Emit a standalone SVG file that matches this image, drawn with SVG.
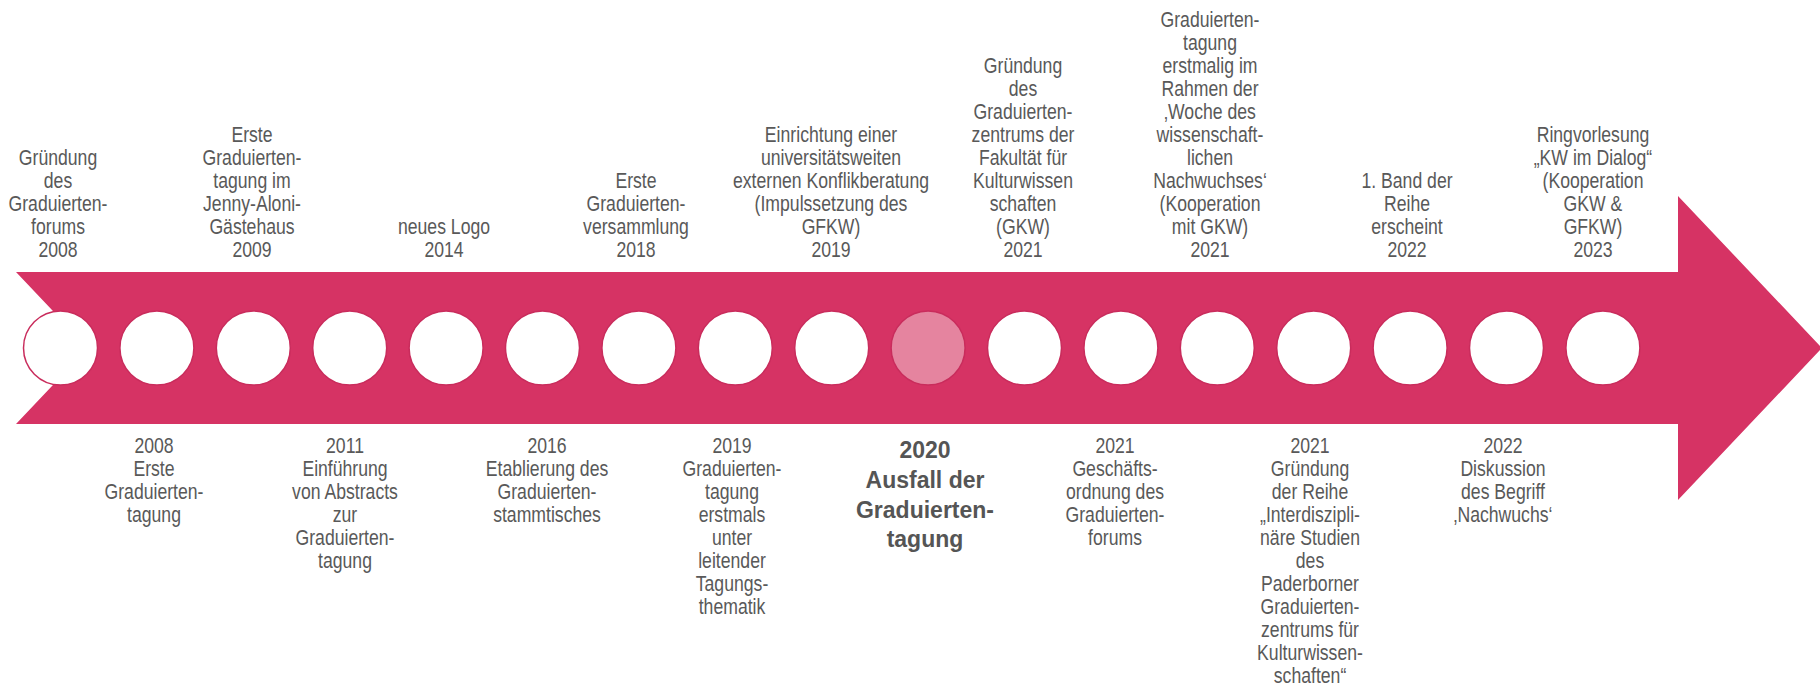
<svg xmlns="http://www.w3.org/2000/svg" width="1820" height="686" viewBox="0 0 1820 686">
<style>
.lbl{font-family:"Liberation Sans",Arial,sans-serif;font-size:21.5px;fill:#595959;text-anchor:middle}
.bold{font-family:"Liberation Sans",Arial,sans-serif;font-weight:bold;font-size:23px;fill:#555555;text-anchor:middle}
.dot{fill:#ffffff;stroke:#C92C5C;stroke-width:1.5}
.off{fill:#E5849F}
</style>
<rect width="1820" height="686" fill="#ffffff"/>
<g id="connectors">
<polygon id="timeline-arrow" points="16,272 1678,272 1678,196 1822,348 1678,500 1678,424 16,424 88,348" fill="#D63364"/>
</g>
<g id="e2008-forum"><circle class="dot" cx="60.5" cy="348" r="37"/>
<text class="lbl" transform="translate(58 0) scale(0.82 1)"><tspan x="0" y="165">Gründung</tspan><tspan x="0" dy="23">des</tspan><tspan x="0" dy="23">Graduierten-</tspan><tspan x="0" dy="23">forums</tspan><tspan x="0" dy="23">2008</tspan></text></g>
<g id="e2008-tagung"><circle class="dot" cx="156.9" cy="348" r="37"/>
<text class="lbl" transform="translate(154 0) scale(0.82 1)"><tspan x="0" y="453">2008</tspan><tspan x="0" dy="23">Erste</tspan><tspan x="0" dy="23">Graduierten-</tspan><tspan x="0" dy="23">tagung</tspan></text></g>
<g id="e2009"><circle class="dot" cx="253.3" cy="348" r="37"/>
<text class="lbl" transform="translate(252 0) scale(0.82 1)"><tspan x="0" y="142">Erste</tspan><tspan x="0" dy="23">Graduierten-</tspan><tspan x="0" dy="23">tagung im</tspan><tspan x="0" dy="23">Jenny-Aloni-</tspan><tspan x="0" dy="23">Gästehaus</tspan><tspan x="0" dy="23">2009</tspan></text></g>
<g id="e2011"><circle class="dot" cx="349.7" cy="348" r="37"/>
<text class="lbl" transform="translate(345 0) scale(0.82 1)"><tspan x="0" y="453">2011</tspan><tspan x="0" dy="23">Einführung</tspan><tspan x="0" dy="23">von Abstracts</tspan><tspan x="0" dy="23">zur</tspan><tspan x="0" dy="23">Graduierten-</tspan><tspan x="0" dy="23">tagung</tspan></text></g>
<g id="e2014"><circle class="dot" cx="446.1" cy="348" r="37"/>
<text class="lbl" transform="translate(444 0) scale(0.82 1)"><tspan x="0" y="234">neues Logo</tspan><tspan x="0" dy="23">2014</tspan></text></g>
<g id="e2016"><circle class="dot" cx="542.5" cy="348" r="37"/>
<text class="lbl" transform="translate(547 0) scale(0.82 1)"><tspan x="0" y="453">2016</tspan><tspan x="0" dy="23">Etablierung des</tspan><tspan x="0" dy="23">Graduierten-</tspan><tspan x="0" dy="23">stammtisches</tspan></text></g>
<g id="e2018"><circle class="dot" cx="638.9" cy="348" r="37"/>
<text class="lbl" transform="translate(636 0) scale(0.82 1)"><tspan x="0" y="188">Erste</tspan><tspan x="0" dy="23">Graduierten-</tspan><tspan x="0" dy="23">versammlung</tspan><tspan x="0" dy="23">2018</tspan></text></g>
<g id="e2019-tagung"><circle class="dot" cx="735.3" cy="348" r="37"/>
<text class="lbl" transform="translate(732 0) scale(0.82 1)"><tspan x="0" y="453">2019</tspan><tspan x="0" dy="23">Graduierten-</tspan><tspan x="0" dy="23">tagung</tspan><tspan x="0" dy="23">erstmals</tspan><tspan x="0" dy="23">unter</tspan><tspan x="0" dy="23">leitender</tspan><tspan x="0" dy="23">Tagungs-</tspan><tspan x="0" dy="23">thematik</tspan></text></g>
<g id="e2019-beratung"><circle class="dot" cx="831.7" cy="348" r="37"/>
<text class="lbl" transform="translate(831 0) scale(0.82 1)"><tspan x="0" y="142">Einrichtung einer</tspan><tspan x="0" dy="23">universitätsweiten</tspan><tspan x="0" dy="23">externen Konflikberatung</tspan><tspan x="0" dy="23">(Impulssetzung des</tspan><tspan x="0" dy="23">GFKW)</tspan><tspan x="0" dy="23">2019</tspan></text></g>
<g id="e2020"><circle class="dot off" cx="928.1" cy="348" r="37"/>
<text class="bold"><tspan x="925" y="458">2020</tspan><tspan x="925" dy="30">Ausfall der</tspan><tspan x="925" dy="30">Graduierten-</tspan><tspan x="925" dy="29">tagung</tspan></text></g>
<g id="e2021-zentrum"><circle class="dot" cx="1024.5" cy="348" r="37"/>
<text class="lbl" transform="translate(1023 0) scale(0.82 1)"><tspan x="0" y="73">Gründung</tspan><tspan x="0" dy="23">des</tspan><tspan x="0" dy="23">Graduierten-</tspan><tspan x="0" dy="23">zentrums der</tspan><tspan x="0" dy="23">Fakultät für</tspan><tspan x="0" dy="23">Kulturwissen</tspan><tspan x="0" dy="23">schaften</tspan><tspan x="0" dy="23">(GKW)</tspan><tspan x="0" dy="23">2021</tspan></text></g>
<g id="e2021-ordnung"><circle class="dot" cx="1120.9" cy="348" r="37"/>
<text class="lbl" transform="translate(1115 0) scale(0.82 1)"><tspan x="0" y="453">2021</tspan><tspan x="0" dy="23">Geschäfts-</tspan><tspan x="0" dy="23">ordnung des</tspan><tspan x="0" dy="23">Graduierten-</tspan><tspan x="0" dy="23">forums</tspan></text></g>
<g id="e2021-woche"><circle class="dot" cx="1217.3" cy="348" r="37"/>
<text class="lbl" transform="translate(1210 0) scale(0.82 1)"><tspan x="0" y="27">Graduierten-</tspan><tspan x="0" dy="23">tagung</tspan><tspan x="0" dy="23">erstmalig im</tspan><tspan x="0" dy="23">Rahmen der</tspan><tspan x="0" dy="23">‚Woche des</tspan><tspan x="0" dy="23">wissenschaft-</tspan><tspan x="0" dy="23">lichen</tspan><tspan x="0" dy="23">Nachwuchses‘</tspan><tspan x="0" dy="23">(Kooperation</tspan><tspan x="0" dy="23">mit GKW)</tspan><tspan x="0" dy="23">2021</tspan></text></g>
<g id="e2021-reihe"><circle class="dot" cx="1313.7" cy="348" r="37"/>
<text class="lbl" transform="translate(1310 0) scale(0.82 1)"><tspan x="0" y="453">2021</tspan><tspan x="0" dy="23">Gründung</tspan><tspan x="0" dy="23">der Reihe</tspan><tspan x="0" dy="23">„Interdiszipli-</tspan><tspan x="0" dy="23">näre Studien</tspan><tspan x="0" dy="23">des</tspan><tspan x="0" dy="23">Paderborner</tspan><tspan x="0" dy="23">Graduierten-</tspan><tspan x="0" dy="23">zentrums für</tspan><tspan x="0" dy="23">Kulturwissen-</tspan><tspan x="0" dy="23">schaften“</tspan></text></g>
<g id="e2022-band"><circle class="dot" cx="1410.1" cy="348" r="37"/>
<text class="lbl" transform="translate(1407 0) scale(0.82 1)"><tspan x="0" y="188">1. Band der</tspan><tspan x="0" dy="23">Reihe</tspan><tspan x="0" dy="23">erscheint</tspan><tspan x="0" dy="23">2022</tspan></text></g>
<g id="e2022-diskussion"><circle class="dot" cx="1506.5" cy="348" r="37"/>
<text class="lbl" transform="translate(1503 0) scale(0.82 1)"><tspan x="0" y="453">2022</tspan><tspan x="0" dy="23">Diskussion</tspan><tspan x="0" dy="23">des Begriff</tspan><tspan x="0" dy="23">‚Nachwuchs‘</tspan></text></g>
<g id="e2023"><circle class="dot" cx="1602.9" cy="348" r="37"/>
<text class="lbl" transform="translate(1593 0) scale(0.82 1)"><tspan x="0" y="142">Ringvorlesung</tspan><tspan x="0" dy="23">„KW im Dialog“</tspan><tspan x="0" dy="23">(Kooperation</tspan><tspan x="0" dy="23">GKW &amp;</tspan><tspan x="0" dy="23">GFKW)</tspan><tspan x="0" dy="23">2023</tspan></text></g>
</svg>
